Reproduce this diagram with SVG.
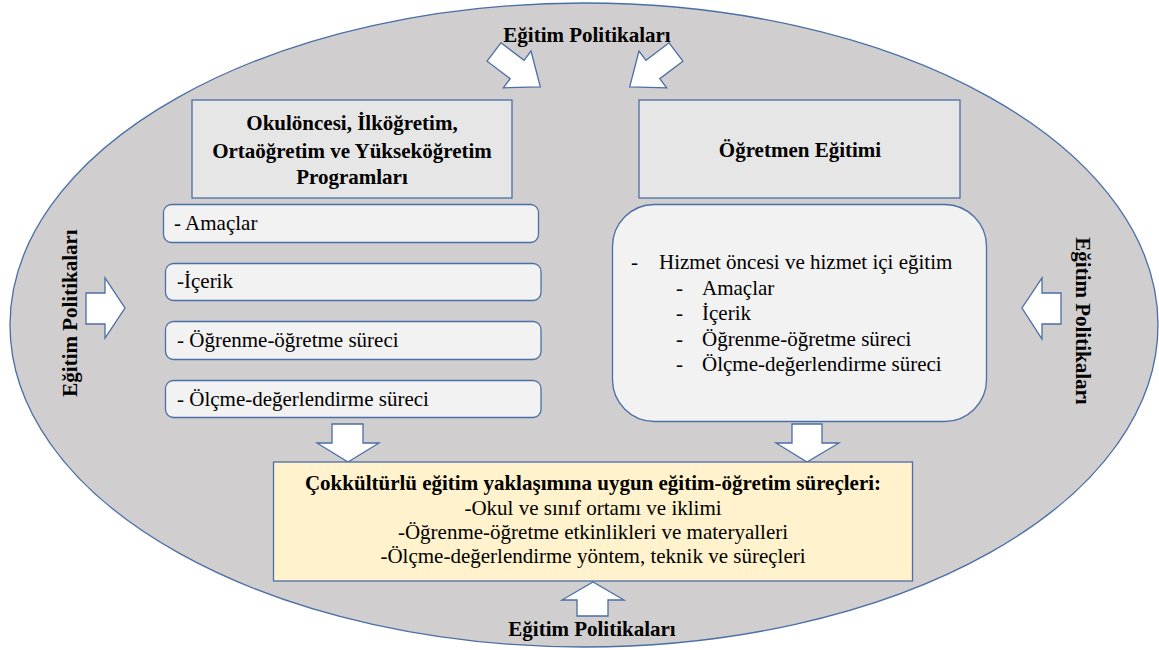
<svg xmlns="http://www.w3.org/2000/svg" width="1159" height="650" viewBox="0 0 1159 650">
  <style>
    .line { stroke: #4a6ea6; stroke-width: 1.3; }
    .head { fill: #e7e6e6; }
    .item { fill: #f2f2f2; }
    .arrow { fill: #ffffff; stroke: #4a6ea6; stroke-width: 1.3; stroke-linejoin: miter; }
    text { font-family: Liberation Serif, Tinos, Times New Roman, Times, serif; font-size: 21px; fill: #000; }
    .b { font-weight: bold; }
    .c { text-anchor: middle; }
  </style>
  <defs>
    <!-- block arrow pointing along +x, tail at origin -->
    <polygon id="diag" points="0,-11.5 29,-11.5 29,-23 58,0 29,23 29,11.5 0,11.5"/>
  </defs>

  <!-- surrounding policy ellipse -->
  <ellipse id="policy" cx="584" cy="325" rx="574" ry="322" fill="#d0cece" class="line"/>

  <g id="labels">
    <text class="b c" x="587" y="42">Eğitim Politikaları</text>
    <text class="b c" x="592" y="636">Eğitim Politikaları</text>
    <text class="b c" transform="translate(77,313) rotate(-90)">Eğitim Politikaları</text>
    <text class="b c" transform="translate(1076,321) rotate(90)">Eğitim Politikaları</text>
  </g>

  <g id="connectors">
    <!-- top: converging diagonal arrows -->
    <use href="#diag" class="arrow" transform="translate(494,52) rotate(37)"/>
    <use href="#diag" class="arrow" transform="translate(676,52) rotate(143)"/>
    <!-- left side, pointing right -->
    <polygon class="arrow" points="86,293 105,293 105,278 125,308 105,338 105,324 86,324"/>
    <!-- right side, pointing left -->
    <polygon class="arrow" points="1061,293 1042,293 1042,278 1022,308 1042,339 1042,324 1061,324"/>
    <!-- down into the processes box -->
    <polygon class="arrow" points="332,424 363,424 363,443 379,443 348,462 317,443 332,443"/>
    <polygon class="arrow" points="792,424 822,424 822,443 839,443 807,462 776,443 792,443"/>
    <!-- bottom, pointing up -->
    <polygon class="arrow" points="577,616 608,616 608,600 624,600 593,582 562,600 577,600"/>
  </g>

  <g id="programs">
    <rect x="192" y="100" width="320" height="98" class="head line"/>
    <text class="b c" x="352" y="130">Okulöncesi, İlköğretim,</text>
    <text class="b c" x="352" y="158">Ortaöğretim ve Yükseköğretim</text>
    <text class="b c" x="352" y="184">Programları</text>
  </g>

  <g id="teacher-education">
    <rect x="639" y="100" width="321" height="98" class="head line"/>
    <text class="b c" x="800" y="157">Öğretmen Eğitimi</text>
  </g>

  <g id="item-aims">
    <rect x="163.5" y="204.5" width="375" height="38" rx="8" class="item line"/>
    <text x="174" y="230">- Amaçlar</text>
  </g>
  <g id="item-content">
    <rect x="165.5" y="263.5" width="375.5" height="37" rx="8" class="item line"/>
    <text x="177" y="288">-İçerik</text>
  </g>
  <g id="item-teaching">
    <rect x="165.5" y="321.5" width="375.5" height="38" rx="8" class="item line"/>
    <text x="177" y="347">- Öğrenme-öğretme süreci</text>
  </g>
  <g id="item-assessment">
    <rect x="165.5" y="380.5" width="375.5" height="37" rx="8" class="item line"/>
    <text x="177" y="406">- Ölçme-değerlendirme süreci</text>
  </g>

  <g id="teacher-details">
    <rect x="612.5" y="204.5" width="374" height="217" rx="42" class="item line"/>
    <text x="631" y="269">-</text>
    <text x="659" y="269">Hizmet öncesi ve hizmet içi eğitim</text>
    <text x="676" y="295">-</text>
    <text x="702" y="295">Amaçlar</text>
    <text x="676" y="320">-</text>
    <text x="702" y="320">İçerik</text>
    <text x="676" y="346">-</text>
    <text x="702" y="346">Öğrenme-öğretme süreci</text>
    <text x="676" y="371">-</text>
    <text x="702" y="371">Ölçme-değerlendirme süreci</text>
  </g>

  <g id="processes">
    <rect x="273.5" y="462" width="639" height="119" fill="#fff2cc" class="line"/>
    <text class="b c" x="593" y="490">Çokkültürlü eğitim yaklaşımına uygun eğitim-öğretim süreçleri:</text>
    <text class="c" x="593" y="515">-Okul ve sınıf ortamı ve iklimi</text>
    <text class="c" x="593" y="539">-Öğrenme-öğretme etkinlikleri ve materyalleri</text>
    <text class="c" x="593" y="563">-Ölçme-değerlendirme yöntem, teknik ve süreçleri</text>
  </g>
</svg>
